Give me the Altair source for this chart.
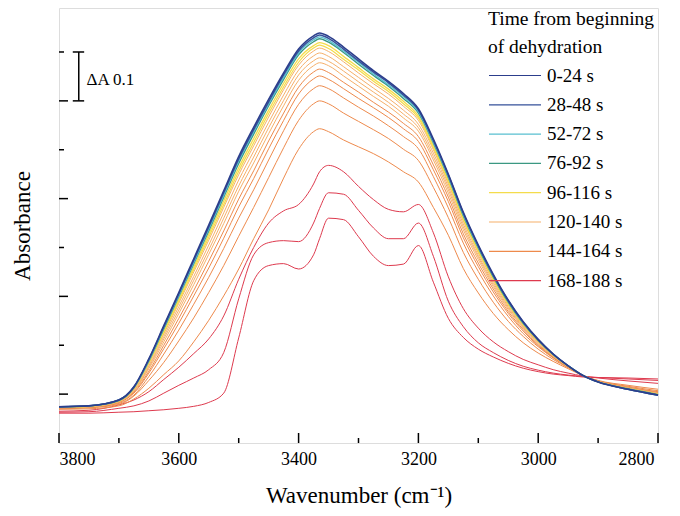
import altair as alt
import pandas as pd

FONT = "Liberation Serif"

# ---------------- data (absorbance, arbitrary offset; tick spacing = 0.1) -------------
wavenumber = [3800, 3750, 3700, 3675, 3650, 3625, 3600, 3575, 3550, 3525, 3500, 3475,
              3450, 3425, 3400, 3375, 3365, 3350, 3325, 3300, 3275, 3250, 3225, 3200,
              3175, 3150, 3125, 3100, 3075, 3050, 3025, 3000, 2975, 2950, 2925, 2900,
              2850, 2800]

spec_01 = [-0.026, -0.024, -0.012, 0.015, 0.072, 0.140, 0.208, 0.277, 0.346, 0.416, 0.486, 0.546,
           0.603, 0.657, 0.706, 0.733, 0.739, 0.732, 0.710, 0.686, 0.662, 0.640, 0.615, 0.584,
           0.522, 0.450, 0.372, 0.305, 0.245, 0.192, 0.148, 0.112, 0.082, 0.058, 0.038, 0.025,
           0.010, -0.002]
spec_02 = [-0.026, -0.024, -0.012, 0.014, 0.071, 0.138, 0.205, 0.274, 0.342, 0.412, 0.481, 0.541,
           0.598, 0.653, 0.702, 0.729, 0.735, 0.728, 0.706, 0.682, 0.659, 0.637, 0.612, 0.581,
           0.519, 0.448, 0.370, 0.303, 0.243, 0.191, 0.147, 0.111, 0.082, 0.058, 0.038, 0.025,
           0.010, -0.002]
spec_03 = [-0.026, -0.024, -0.012, 0.014, 0.069, 0.136, 0.202, 0.270, 0.338, 0.407, 0.477, 0.537,
           0.594, 0.648, 0.698, 0.725, 0.731, 0.724, 0.702, 0.679, 0.655, 0.633, 0.609, 0.578,
           0.516, 0.445, 0.367, 0.301, 0.242, 0.190, 0.146, 0.111, 0.081, 0.058, 0.038, 0.025,
           0.010, -0.002]
spec_04 = [-0.026, -0.024, -0.013, 0.013, 0.068, 0.134, 0.200, 0.267, 0.334, 0.403, 0.472, 0.532,
           0.590, 0.644, 0.694, 0.721, 0.727, 0.720, 0.699, 0.675, 0.652, 0.630, 0.605, 0.575,
           0.514, 0.443, 0.365, 0.299, 0.240, 0.188, 0.145, 0.110, 0.081, 0.058, 0.038, 0.025,
           0.011, -0.001]
spec_05 = [-0.027, -0.025, -0.013, 0.012, 0.066, 0.130, 0.194, 0.260, 0.327, 0.395, 0.463, 0.523,
           0.581, 0.636, 0.686, 0.713, 0.719, 0.713, 0.691, 0.668, 0.645, 0.624, 0.599, 0.569,
           0.508, 0.438, 0.361, 0.295, 0.237, 0.186, 0.144, 0.109, 0.081, 0.057, 0.038, 0.025,
           0.011, -0.001]
spec_06 = [-0.027, -0.025, -0.014, 0.011, 0.064, 0.126, 0.190, 0.255, 0.321, 0.388, 0.456, 0.515,
           0.574, 0.629, 0.679, 0.708, 0.714, 0.707, 0.685, 0.663, 0.640, 0.619, 0.594, 0.565,
           0.504, 0.434, 0.357, 0.292, 0.235, 0.184, 0.142, 0.108, 0.080, 0.057, 0.038, 0.025,
           0.011, 0.000]
spec_07 = [-0.027, -0.025, -0.014, 0.010, 0.062, 0.123, 0.186, 0.250, 0.315, 0.382, 0.449, 0.508,
           0.567, 0.623, 0.673, 0.702, 0.708, 0.701, 0.680, 0.657, 0.635, 0.614, 0.589, 0.560,
           0.500, 0.430, 0.354, 0.289, 0.232, 0.182, 0.141, 0.108, 0.080, 0.057, 0.038, 0.026,
           0.011, 0.000]
spec_08 = [-0.027, -0.025, -0.015, 0.009, 0.058, 0.118, 0.179, 0.241, 0.305, 0.371, 0.438, 0.497,
           0.556, 0.612, 0.663, 0.692, 0.698, 0.691, 0.670, 0.648, 0.626, 0.605, 0.581, 0.552,
           0.493, 0.424, 0.348, 0.284, 0.228, 0.179, 0.139, 0.106, 0.079, 0.057, 0.038, 0.026,
           0.012, 0.001]
spec_09 = [-0.027, -0.026, -0.015, 0.007, 0.055, 0.113, 0.172, 0.233, 0.295, 0.360, 0.426, 0.485,
           0.545, 0.601, 0.653, 0.682, 0.688, 0.681, 0.661, 0.639, 0.618, 0.597, 0.573, 0.545,
           0.486, 0.418, 0.342, 0.280, 0.224, 0.176, 0.137, 0.105, 0.078, 0.056, 0.038, 0.026,
           0.012, 0.001]
spec_10 = [-0.028, -0.026, -0.016, 0.006, 0.052, 0.107, 0.165, 0.224, 0.286, 0.349, 0.415, 0.473,
           0.533, 0.590, 0.642, 0.672, 0.678, 0.672, 0.651, 0.630, 0.609, 0.589, 0.565, 0.538,
           0.479, 0.411, 0.336, 0.275, 0.220, 0.173, 0.135, 0.103, 0.077, 0.056, 0.038, 0.026,
           0.013, 0.002]
spec_11 = [-0.028, -0.026, -0.017, 0.004, 0.047, 0.100, 0.155, 0.212, 0.272, 0.334, 0.399, 0.457,
           0.518, 0.575, 0.628, 0.659, 0.665, 0.658, 0.638, 0.618, 0.597, 0.577, 0.554, 0.527,
           0.469, 0.403, 0.328, 0.268, 0.215, 0.169, 0.132, 0.101, 0.076, 0.056, 0.038, 0.026,
           0.013, 0.003]
spec_12 = [-0.028, -0.027, -0.017, 0.002, 0.043, 0.093, 0.145, 0.201, 0.258, 0.319, 0.383, 0.441,
           0.502, 0.560, 0.614, 0.645, 0.651, 0.644, 0.625, 0.605, 0.586, 0.566, 0.543, 0.517,
           0.459, 0.394, 0.320, 0.261, 0.209, 0.165, 0.129, 0.099, 0.075, 0.055, 0.038, 0.026,
           0.014, 0.003]
spec_13 = [-0.029, -0.027, -0.019, -0.002, 0.036, 0.082, 0.131, 0.184, 0.239, 0.298, 0.360, 0.418,
           0.479, 0.539, 0.593, 0.625, 0.631, 0.625, 0.606, 0.587, 0.569, 0.549, 0.527, 0.502,
           0.445, 0.381, 0.309, 0.251, 0.201, 0.159, 0.124, 0.097, 0.074, 0.055, 0.038, 0.027,
           0.014, 0.005]
spec_14 = [-0.030, -0.028, -0.021, -0.004, 0.028, 0.065, 0.109, 0.156, 0.208, 0.263, 0.323, 0.382,
           0.443, 0.504, 0.560, 0.594, 0.600, 0.594, 0.575, 0.558, 0.541, 0.523, 0.501, 0.478,
           0.423, 0.361, 0.290, 0.235, 0.188, 0.149, 0.118, 0.092, 0.071, 0.054, 0.038, 0.027,
           0.016, 0.007]
spec_15 = [-0.031, -0.030, -0.024, -0.010, 0.012, 0.040, 0.068, 0.107, 0.151, 0.201, 0.256, 0.318,
           0.377, 0.442, 0.501, 0.537, 0.543, 0.537, 0.520, 0.506, 0.492, 0.475, 0.455, 0.434,
           0.382, 0.325, 0.257, 0.207, 0.165, 0.132, 0.105, 0.084, 0.067, 0.052, 0.038, 0.028,
           0.018, 0.010]
spec_16 = [-0.035, -0.033, -0.022, -0.012, 0.005, 0.030, 0.055, 0.083, 0.113, 0.160, 0.235, 0.300,
           0.350, 0.375, 0.388, 0.430, 0.455, 0.468, 0.455, 0.425, 0.398, 0.378, 0.373, 0.388,
           0.330, 0.240, 0.175, 0.135, 0.107, 0.087, 0.071, 0.060, 0.050, 0.043, 0.037, 0.033,
           0.027, 0.022]
spec_17 = [-0.037, -0.036, -0.029, -0.024, -0.014, 0.002, 0.018, 0.033, 0.050, 0.085, 0.195, 0.285,
           0.310, 0.314, 0.312, 0.350, 0.380, 0.412, 0.409, 0.376, 0.340, 0.318, 0.318, 0.350,
           0.282, 0.190, 0.138, 0.105, 0.085, 0.069, 0.057, 0.049, 0.043, 0.039, 0.036, 0.034,
           0.031, 0.028]
spec_18 = [-0.039, -0.039, -0.037, -0.036, -0.034, -0.032, -0.029, -0.025, -0.017, 0.002, 0.115, 0.232,
           0.263, 0.267, 0.256, 0.285, 0.318, 0.360, 0.357, 0.322, 0.282, 0.263, 0.266, 0.304,
           0.229, 0.155, 0.116, 0.092, 0.076, 0.063, 0.053, 0.046, 0.041, 0.038, 0.035, 0.034,
           0.033, 0.031]

legend_labels = ["0-24 s", "28-48 s", "52-72 s", "76-92 s", "96-116 s",
                 "120-140 s", "144-164 s", "168-188 s"]
legend_colors = ["#2c3e8c", "#35509a", "#58bfd0", "#3b9882", "#f4dc4c",
                 "#f6b06a", "#ee8a4c", "#de3a4e"]

spectra = [spec_01, spec_02, spec_03, spec_04, spec_05, spec_06, spec_07, spec_08, spec_09,
           spec_10, spec_11, spec_12, spec_13, spec_14, spec_15, spec_16, spec_17, spec_18]
spectrum_group = ["0-24 s", "28-48 s", "52-72 s", "76-92 s", "96-116 s", "96-116 s",
                  "120-140 s", "120-140 s", "120-140 s", "120-140 s",
                  "144-164 s", "144-164 s", "144-164 s", "144-164 s", "144-164 s",
                  "168-188 s", "168-188 s", "168-188 s"]
spectrum_width = [1.6, 1.5, 1.4, 1.4, 1.3, 1.2, 1.0, 1.0, 1.0, 1.0,
                  1.0, 1.0, 1.0, 1.0, 1.0, 1.0, 1.0, 1.0]

x_major = [3800, 3600, 3400, 3200, 3000, 2800]
x_minor = [3700, 3500, 3300, 3100, 2900]
y_major = [0.0, 0.2, 0.4, 0.6]
y_minor = [0.1, 0.3, 0.5, 0.7]

scale_bar_x = 3767
scale_bar_low = 0.6
scale_bar_high = 0.7
scale_bar_cap = [3777, 3758]
scale_bar_text = "ΔA 0.1"
scale_bar_text_x = 3754

# ---------------- build table (later spectra drawn first, earliest on top) ----------
rows = []
for k in reversed(range(len(spectra))):
    for w, a in zip(wavenumber, spectra[k]):
        rows.append({"wn": w, "A": a, "curve": f"s{k:02d}",
                     "group": spectrum_group[k], "lw": spectrum_width[k]})
df = pd.DataFrame(rows)

W, H = 599, 435
x_scale = alt.Scale(domain=[3800, 2800], nice=False, zero=False)
y_scale = alt.Scale(domain=[-0.1, 0.79], nice=False, zero=False)

lines = alt.Chart(df).mark_line(interpolate="monotone").encode(
    x=alt.X("wn:Q", scale=x_scale,
            axis=alt.Axis(values=x_major, format="d", title="Wavenumber (cm⁻¹)",
                          ticks=False, domain=False, grid=False,
                          labelPadding=7, titlePadding=16,
                          labelOffset={"condition": {"test": "datum.value == 2800", "value": -4},
                                       "value": 0},
                          labelFont=FONT, labelFontSize=18, labelColor="black",
                          titleFont=FONT, titleFontSize=23, titleColor="black",
                          titleFontWeight="normal")),
    y=alt.Y("A:Q", scale=y_scale,
            axis=alt.Axis(labels=False, ticks=False, domain=False, grid=False,
                          title="Absorbance", titlePadding=25,
                          titleFont=FONT, titleFontSize=23, titleColor="black",
                          titleFontWeight="normal")),
    color=alt.Color("group:N",
                    scale=alt.Scale(domain=legend_labels, range=legend_colors),
                    legend=alt.Legend(title=["Time from beginning", "of dehydration"],
                                      orient="none", legendX=429, legendY=2,
                                      padding=0, symbolType="stroke", symbolSize=2704,
                                      symbolStrokeWidth=1.2, clipHeight=20, rowPadding=9.3,
                                      labelOffset=5, labelFont=FONT, labelFontSize=19,
                                      labelColor="black", titleFont=FONT, titleFontSize=19.5,
                                      titleColor="black", titleFontWeight="normal",
                                      titleLineHeight=28, titlePadding=8, titleLimit=400,
                                      labelLimit=300)),
    detail="curve:N",
    strokeWidth=alt.StrokeWidth("lw:Q", scale=None),
)

xmaj = alt.Chart(pd.DataFrame({"t": x_major})).mark_rule(color="black", strokeWidth=1.5).encode(
    x=alt.X("t:Q", scale=x_scale), y=alt.value(H), y2=alt.value(H - 10))
xmin = alt.Chart(pd.DataFrame({"t": x_minor})).mark_rule(color="black", strokeWidth=1.5).encode(
    x=alt.X("t:Q", scale=x_scale), y=alt.value(H), y2=alt.value(H - 5))
ymaj = alt.Chart(pd.DataFrame({"t": y_major})).mark_rule(color="black", strokeWidth=1.5).encode(
    y=alt.Y("t:Q", scale=y_scale), x=alt.value(0), x2=alt.value(9))
ymin = alt.Chart(pd.DataFrame({"t": y_minor})).mark_rule(color="black", strokeWidth=1.5).encode(
    y=alt.Y("t:Q", scale=y_scale), x=alt.value(0), x2=alt.value(5))

bar_v = alt.Chart(pd.DataFrame({"x": [scale_bar_x], "y": [scale_bar_low], "y2": [scale_bar_high]})
                  ).mark_rule(color="black", strokeWidth=1.5).encode(
    x=alt.X("x:Q", scale=x_scale), y=alt.Y("y:Q", scale=y_scale), y2="y2:Q")
bar_caps = alt.Chart(pd.DataFrame({"x": [scale_bar_cap[0]] * 2, "x2": [scale_bar_cap[1]] * 2,
                                   "y": [scale_bar_low, scale_bar_high]})
                     ).mark_rule(color="black", strokeWidth=1.5).encode(
    x=alt.X("x:Q", scale=x_scale), x2="x2:Q", y=alt.Y("y:Q", scale=y_scale))
bar_text = alt.Chart(pd.DataFrame({"x": [scale_bar_text_x],
                                   "y": [(scale_bar_low + scale_bar_high) / 2 - 0.008],
                                   "t": [scale_bar_text]})
                     ).mark_text(align="left", baseline="middle", font=FONT, fontSize=17,
                                 color="black").encode(
    x=alt.X("x:Q", scale=x_scale), y=alt.Y("y:Q", scale=y_scale), text="t:N")

chart = alt.layer(lines, xmaj, xmin, ymaj, ymin, bar_v, bar_caps, bar_text).properties(
    width=W, height=H,
    autosize=alt.AutoSizeParams(type="none"),
    padding={"left": 51, "top": 0, "right": 14, "bottom": 65},
    background="white",
).configure_view(stroke="black", strokeWidth=1.5).configure(font=FONT)

chart.save("out.html", embed_options={"renderer": "svg", "actions": False})
